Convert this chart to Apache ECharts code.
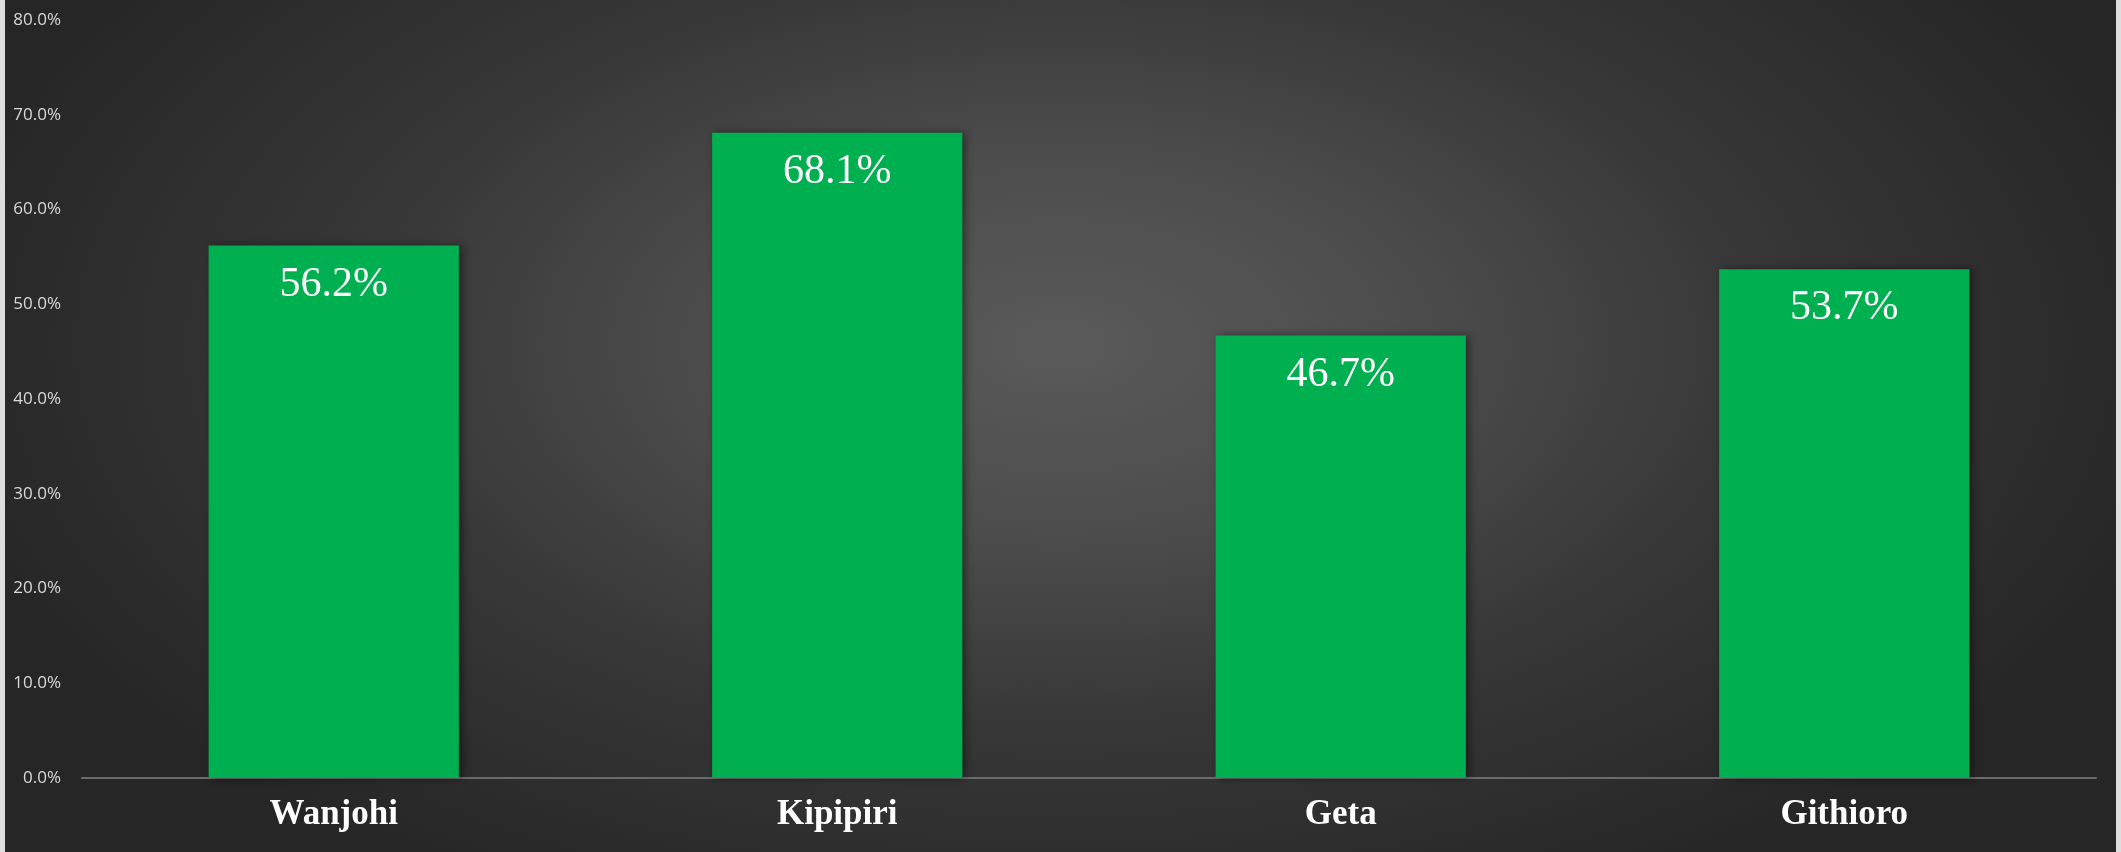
<!DOCTYPE html>
<html>
<head>
<meta charset="utf-8">
<script src="https://cdn.jsdelivr.net/npm/echarts@6/dist/echarts.min.js"></script>
<style>
  html, body { margin: 0; padding: 0; width: 2121px; height: 852px; overflow: hidden; background: #262626; }
  #wrap { position: relative; width: 2121px; height: 852px;
    background: radial-gradient(ellipse 1150px 620px at 1060px 345px, #5a5a5a 0%, #4d4d4d 30%, #383838 60%, #262626 100%); }
  #chart { position: absolute; left: 0; top: 0; width: 2121px; height: 852px; }
  .edge { position: absolute; top: 0; width: 5px; height: 852px; background: #dedede; }
</style>
</head>
<body>
<div id="wrap">
  <div id="chart"></div>
  <div class="edge" style="left:0"></div>
  <div class="edge" style="right:0"></div>
</div>
<script>
const categories = ['Wanjohi', 'Kipipiri', 'Geta', 'Githioro'];
const values = [56.2, 68.1, 46.7, 53.7];
const yMin = 0, yMax = 80, yInterval = 10;

const chart = echarts.init(document.getElementById('chart'), null, { renderer: 'canvas' });
chart.setOption({
  backgroundColor: 'transparent',
  animation: false,
  grid: { left: 82, right: 25, top: 20, bottom: 74, containLabel: false },
  xAxis: {
    type: 'category',
    data: categories,
    axisLine: { show: true, lineStyle: { color: '#6b6b6b', width: 2 } },
    axisTick: { show: false },
    axisLabel: {
      color: '#ffffff', fontFamily: 'Liberation Serif', fontWeight: 'bold', fontSize: 35,
      margin: 19
    }
  },
  yAxis: {
    type: 'value',
    min: yMin, max: yMax, interval: yInterval,
    splitLine: { show: false },
    axisLine: { show: false },
    axisTick: { show: false },
    axisLabel: {
      color: '#d9d9d9', fontFamily: 'Open Sans', fontSize: 17, margin: 21,
      formatter: v => v.toFixed(1) + '%'
    }
  },
  series: [{
    type: 'bar',
    data: values,
    barWidth: '49.7%',
    itemStyle: {
      color: '#00AF50',
      shadowColor: 'rgba(0,0,0,0.45)', shadowBlur: 8, shadowOffsetX: 3, shadowOffsetY: 0
    },
    label: {
      show: true, position: 'insideTop', distance: 18,
      color: '#ffffff', fontFamily: 'Liberation Serif', fontSize: 42,
      formatter: p => p.value.toFixed(1) + '%'
    }
  }]
});
</script>
</body>
</html>
